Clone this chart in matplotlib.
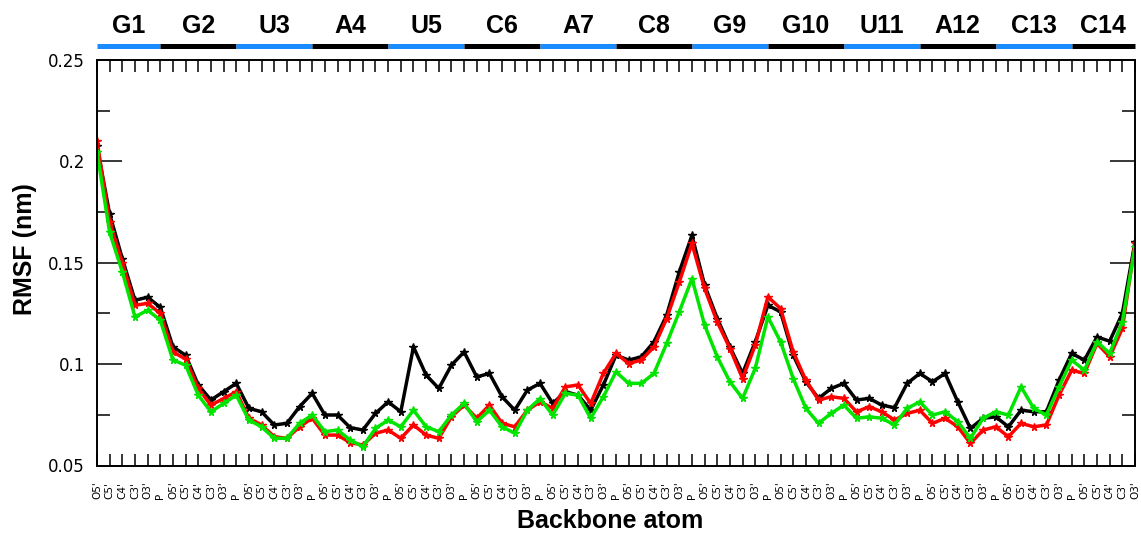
import matplotlib
matplotlib.use("Agg")
import matplotlib.pyplot as plt
import matplotlib.transforms as mtransforms
from matplotlib.ticker import MultipleLocator, FuncFormatter

# Residues of the RNA strand and the backbone atoms sampled for each one
residues = ["G1", "G2", "U3", "A4", "U5", "C6", "A7", "C8", "G9", "G10",
            "U11", "A12", "C13", "C14"]
backbone_atoms = ["P", "O5'", "C5'", "C4'", "C3'", "O3'"]

# Per-atom RMSF (nm) for the three simulations
rmsf_black = [0.2075, 0.174, 0.152, 0.1315, 0.133, 0.128, 0.1085, 0.1044, 0.0897, 0.0823,
              0.0864, 0.0905, 0.0782, 0.0765, 0.070, 0.0708, 0.079, 0.0856, 0.0749, 0.0749,
              0.0687, 0.0675, 0.0757, 0.0814, 0.0765, 0.1085, 0.0946, 0.088, 0.0995, 0.106,
              0.0937, 0.0954, 0.0839, 0.0773, 0.0872, 0.0905, 0.0806, 0.0864, 0.0847, 0.0773,
              0.0897, 0.1044, 0.102, 0.1036, 0.111, 0.1241, 0.1455, 0.1635, 0.1389, 0.1225,
              0.1085, 0.0954, 0.111, 0.129, 0.1258, 0.1044, 0.0913, 0.0831, 0.088, 0.0905,
              0.0823, 0.0831, 0.0798, 0.0785, 0.0905, 0.0954, 0.0913, 0.0954, 0.0814, 0.0683,
              0.0733, 0.074, 0.0691, 0.0773, 0.0765, 0.0765, 0.0921, 0.1053, 0.102, 0.1134,
              0.1113, 0.125, 0.1602]
rmsf_red = [0.210, 0.170, 0.150, 0.129, 0.130, 0.125, 0.106, 0.1025, 0.088, 0.0798,
            0.083, 0.0864, 0.0733, 0.070, 0.0642, 0.0634, 0.0691, 0.0733, 0.065, 0.065,
            0.0613, 0.0601, 0.0659, 0.0675, 0.0634, 0.070, 0.065, 0.0634, 0.074, 0.0798,
            0.0733, 0.0798, 0.0708, 0.0691, 0.0773, 0.0814, 0.0782, 0.0888, 0.0897, 0.0806,
            0.0954, 0.1053, 0.1003, 0.102, 0.1085, 0.1225, 0.1405, 0.1595, 0.1373, 0.1208,
            0.1077, 0.0929, 0.1094, 0.1332, 0.1274, 0.106, 0.0921, 0.0823, 0.0839, 0.0831,
            0.0765, 0.079, 0.0765, 0.0724, 0.0757, 0.0773, 0.0708, 0.0733, 0.0691, 0.0609,
            0.0675, 0.0691, 0.0642, 0.0708, 0.0691, 0.070, 0.0847, 0.097, 0.0954, 0.1102,
            0.1036, 0.1176, 0.1595]
rmsf_green = [0.2046, 0.165, 0.1455, 0.1233, 0.1266, 0.1217, 0.102, 0.0995, 0.0847, 0.0765,
              0.0806, 0.0847, 0.0724, 0.0691, 0.0634, 0.0634, 0.0708, 0.0749, 0.0667, 0.0675,
              0.0626, 0.0593, 0.0683, 0.0724, 0.0691, 0.0773, 0.0691, 0.0667, 0.0749, 0.0806,
              0.0716, 0.0773, 0.0691, 0.0659, 0.0773, 0.083, 0.0749, 0.0856, 0.0847, 0.0733,
              0.0839, 0.0962, 0.0905, 0.0905, 0.0954, 0.1102, 0.1258, 0.1422, 0.1192, 0.1036,
              0.0913, 0.0831, 0.0979, 0.1233, 0.111, 0.0929, 0.0782, 0.0708, 0.0757, 0.0798,
              0.0733, 0.074, 0.0733, 0.070, 0.0782, 0.0814, 0.0749, 0.0765, 0.0716, 0.0634,
              0.0733, 0.0765, 0.0749, 0.0888, 0.0782, 0.0749, 0.0888, 0.102, 0.097, 0.111,
              0.1053, 0.1208, 0.1578]

series_colors = ["#000000", "#ff0000", "#00e400"]
residue_colors = ["#1a8cff", "#000000"]

# The 5' terminal residue has no phosphate
atom_labels = []
residue_spans = []
for k, res in enumerate(residues):
    atoms = backbone_atoms[1:] if k == 0 else backbone_atoms
    start = len(atom_labels)
    atom_labels.extend(atoms)
    residue_spans.append((start, len(atom_labels)))
x = list(range(len(atom_labels)))

W, H = 1141, 533
fig = plt.figure(figsize=(W / 100, H / 100), dpi=100)
ax = fig.add_axes([97 / W, 67.5 / H, 1038 / W, 405.5 / H])

for vals, col in zip([rmsf_black, rmsf_red, rmsf_green], series_colors):
    ax.plot(x, vals, color=col, lw=2.5, marker="*", ms=5.5, mec=col, mfc=col)

ax.set_xlim(0, len(x) - 1)
ax.set_ylim(0.05, 0.25)
ax.yaxis.set_major_locator(MultipleLocator(0.05))
ax.yaxis.set_minor_locator(MultipleLocator(0.025))
ax.yaxis.set_major_formatter(FuncFormatter(lambda v, p: f"{v:g}"))
ax.tick_params(axis="y", which="major", direction="in", length=18, width=1.1,
               left=True, right=True, labelsize=12, pad=8.6)
ax.tick_params(axis="y", which="minor", direction="in", length=9.4, width=1.1,
               left=True, right=True)
for lab in ax.get_yticklabels():
    lab.set_fontfamily("DejaVu Sans")

ax.set_xticks(x)
ax.set_xticklabels(atom_labels, rotation=90, fontsize=7.5, va="bottom",
                   family="DejaVu Sans")
ax.tick_params(axis="x", direction="in", length=8.6, width=1.1, top=True,
               bottom=True, pad=24)

for sp in ax.spines.values():
    sp.set_linewidth(1.4)

# Residue bar and names above the plot
trans = mtransforms.blended_transform_factory(ax.transData, ax.transAxes)
for k, (res, (s, e)) in enumerate(zip(residues, residue_spans)):
    x0 = s
    x1 = e if k < len(residues) - 1 else e - 1
    ax.plot([x0, x1], [1.0345, 1.0345], transform=trans, clip_on=False,
            color=residue_colors[k % 2], lw=3.6, solid_capstyle="butt")
    ax.text((x0 + x1) / 2, 1.0838, res, transform=trans, ha="center", va="center",
            fontsize=18, fontweight="bold", family="Liberation Sans")

fig.text(25 / W, 1 - 249 / H, "RMSF (nm)", rotation=90, ha="center", va="center",
         fontsize=18, fontweight="bold", family="Liberation Sans")
fig.text(610 / W, 1 - 521.5 / H, "Backbone atom", ha="center", va="center",
         fontsize=18, fontweight="bold", family="Liberation Sans")

fig.savefig("out.png", dpi=100, facecolor="white")
